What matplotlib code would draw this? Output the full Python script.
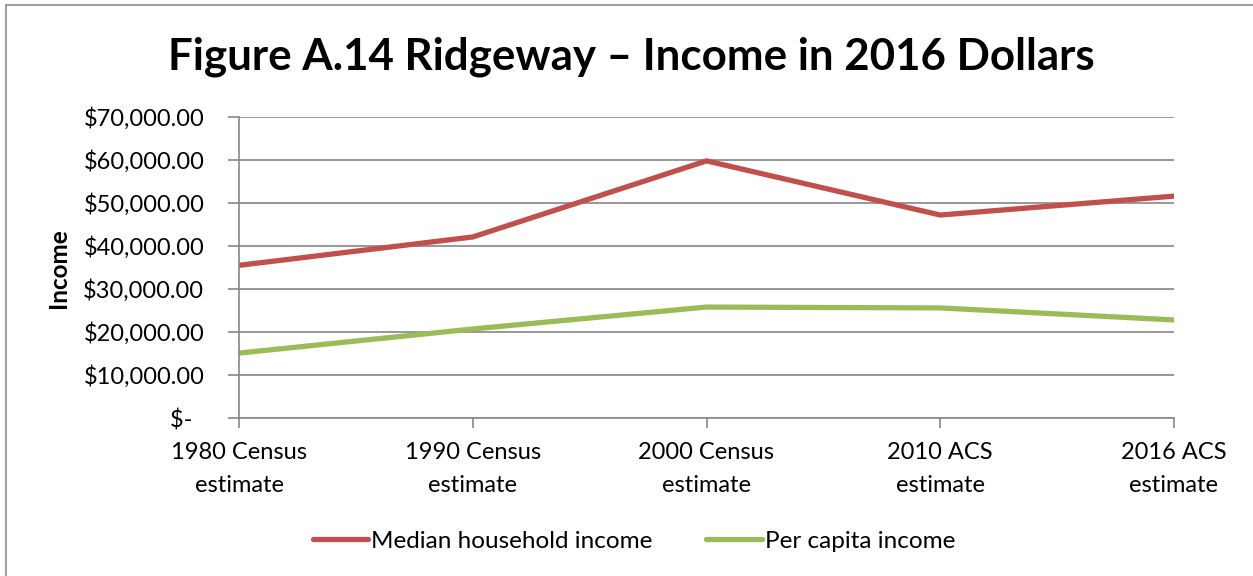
import numpy as np
import matplotlib
matplotlib.use("Agg")
import matplotlib.pyplot as plt
from matplotlib.patches import Rectangle
from matplotlib.ticker import FuncFormatter

categories = ["1980 Census\nestimate", "1990 Census\nestimate", "2000 Census\nestimate",
              "2010 ACS\nestimate", "2016 ACS\nestimate"]
median_household = [35500, 42100, 59800, 47200, 51600]
per_capita = [15100, 20700, 25800, 25600, 22800]

plt.rcParams['font.family'] = ['Lato', 'DejaVu Sans']

W, H = 1253, 576
fig = plt.figure(figsize=(W / 100, H / 100), dpi=100)
fig.patches.append(Rectangle((6 / W, -0.1), 1.2, (H - 5) / H + 0.1, transform=fig.transFigure,
                             fill=False, edgecolor="#8c8c8c", linewidth=1.2))

ax = fig.add_axes([239 / W, 1 - 418 / H, (1174 - 239) / W, (418 - 117) / H])

x = np.arange(len(categories))
red = "#C0504D"
green = "#9BBB59"
ax.plot(x, median_household, color=red, linewidth=3.8, solid_capstyle="round",
        label="Median household income")
ax.plot(x, per_capita, color=green, linewidth=3.8, solid_capstyle="round",
        label="Per capita income")

ax.set_xlim(0, len(categories) - 1)
ax.set_ylim(0, 70000)
ax.set_yticks(np.arange(0, 70001, 10000))


def money(v, pos):
    if v == 0:
        return "$-  "
    return f"${v:,.2f}"


ax.yaxis.set_major_formatter(FuncFormatter(money))
ax.set_xticks(x)
ax.set_xticklabels(categories, fontsize=17, linespacing=1.7)
ax.tick_params(axis="y", labelsize=17, length=8, color="#868686", width=1.2, pad=17)
ax.tick_params(axis="x", length=7, color="#868686", width=1.2, pad=10)
ax.grid(axis="y", color="#868686", linewidth=1.2)
ax.set_axisbelow(True)
for s in ["top", "right"]:
    ax.spines[s].set_visible(False)
for s in ["left", "bottom"]:
    ax.spines[s].set_color("#868686")
    ax.spines[s].set_linewidth(1.2)

fig.text(58 / W, 1 - 268 / H, "Income", rotation=90, fontsize=17.5, fontweight="bold",
         ha="center", va="center")
fig.text(631 / W, 1 - 57 / H, "Figure A.14 Ridgeway \u2013 Income in 2016 Dollars",
         fontsize=31.6, fontweight="bold", ha="center", va="center")

fig.legend(loc="center", bbox_to_anchor=(634 / W, 1 - 541 / H), ncol=2, frameon=False,
           fontsize=17.5, handlelength=2.3, handletextpad=0.12, columnspacing=2.2)

fig.savefig("out.png", dpi=100)
